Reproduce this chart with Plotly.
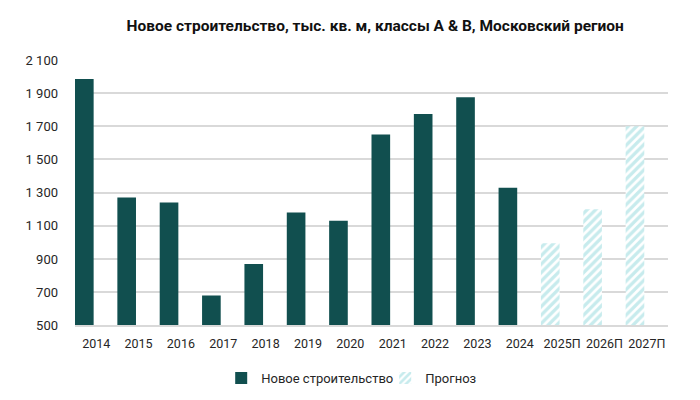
import plotly.graph_objects as go

categories = ["2014", "2015", "2016", "2017", "2018", "2019", "2020",
              "2021", "2022", "2023", "2024", "2025П", "2026П", "2027П"]
new_construction = [1985, 1270, 1240, 680, 870, 1180, 1130,
                    1650, 1775, 1875, 1330, None, None, None]
forecast = [None, None, None, None, None, None, None,
            None, None, None, None, 995, 1200, 1700]

title_text = "Новое строительство, тыс. кв. м, классы A & B, Московский регион"
series_names = ["Новое строительство", "Прогноз"]

DARK = "#114f4f"
LIGHT = "#8fd8db"
FONT = "Roboto"
TEXT = "#262626"

fig = go.Figure()
fig.add_trace(go.Bar(
    x=categories, y=new_construction, name=series_names[0],
    marker=dict(color=DARK, line=dict(width=0)),
    width=0.44, offset=-0.5,
))
fig.add_trace(go.Bar(
    x=categories, y=forecast, name=series_names[1],
    marker=dict(color="white", line=dict(width=0),
                pattern=dict(shape="/", fgcolor=LIGHT, bgcolor="white",
                             size=6, solidity=0.55, fillmode="overlay")),
    width=0.44, offset=-0.5,
))

fig.update_layout(
    width=700, height=400,
    margin=dict(l=75, r=32, t=60, b=73),
    paper_bgcolor="white", plot_bgcolor="white",
    barmode="overlay",
    separators=", ",
    title=dict(text=title_text, x=0.536, xanchor="center", y=0.935, yanchor="middle",
               font=dict(family=FONT, size=15.5, color="#111111", weight="bold")),
    font=dict(family=FONT, size=13, color=TEXT),
    showlegend=True,
    legend=dict(orientation="h", xref="container", x=0.316, xanchor="left",
                yref="container", y=0.055, yanchor="middle",
                font=dict(family=FONT, size=13, color=TEXT),
                itemwidth=30, entrywidth=119, entrywidthmode="pixels",
                tracegroupgap=0),
)
fig.update_xaxes(
    type="category", range=[-0.5, 13.5],
    showgrid=False, showline=True, linecolor="#d9d9d9", linewidth=1.5,
    ticks="", ticklabelstandoff=6,
    tickfont=dict(family=FONT, size=12.5, color=TEXT),
)
fig.update_yaxes(
    range=[500, 2100], dtick=200, tick0=500,
    tickformat=",d",
    showgrid=True, gridcolor="#d9d9d9", gridwidth=1.5,
    zeroline=False, showline=False, ticks="",
    ticklabelstandoff=16,
    tickfont=dict(family=FONT, size=13, color=TEXT),
)

fig.write_html("out.html", config={"displayModeBar": False},
               post_script="document.body.style.margin='0';")
